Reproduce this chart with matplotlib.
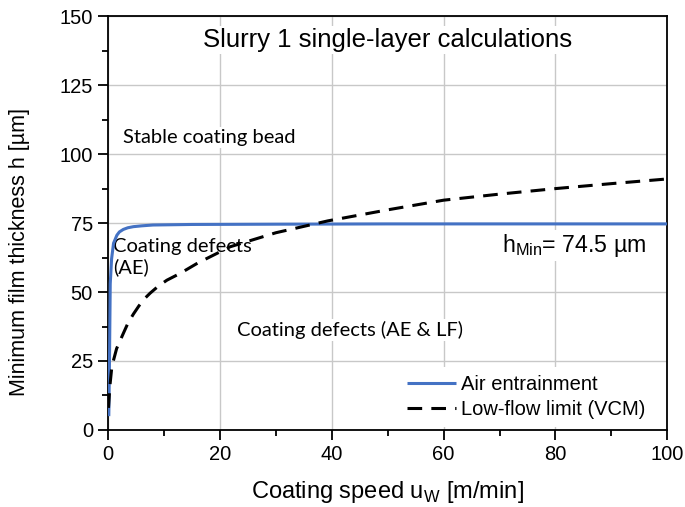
import matplotlib
matplotlib.use("Agg")
import matplotlib.pyplot as plt
import numpy as np

# Air entrainment curve
ae_x = [0.1, 0.2, 0.36, 0.6, 0.95, 1.55, 2.0, 2.7, 3.5, 4.5, 6.0, 8.0, 15, 30, 50, 70, 100]
ae_y = [5.0, 20.0, 53.0, 62.0, 67.7, 70.6, 71.8, 72.7, 73.3, 73.7, 74.0, 74.3, 74.5, 74.6, 74.7, 74.7, 74.7]

# Low-flow limit (VCM) curve
lf_x = [0.05, 0.3, 0.65, 1.5, 2.7, 3.5, 4.5, 5.5, 6.5, 7.5, 9, 10.5, 12.9, 16, 21.8, 30, 39.3,
        50, 60, 70, 80, 90, 100]
lf_y = [8.0, 16.0, 23.0, 29.5, 35.0, 38.6, 42.0, 45.0, 47.6, 49.6, 52.2, 54.3, 56.8, 60.5, 66.4,
        71.5, 75.8, 79.8, 83.3, 85.5, 87.5, 89.3, 91.0]

xticks = [0, 20, 40, 60, 80, 100]
yticks = [0, 25, 50, 75, 100, 125, 150]

fig = plt.figure(figsize=(6.85, 5.07), dpi=100)
ax = fig.add_axes([0.158, 0.152, 0.816, 0.816])

arial = "Liberation Sans"
calibri = "Lato"

ax.set_xlim(0, 100)
ax.set_ylim(0, 150)
ax.set_xticks(xticks)
ax.set_yticks(yticks)
ax.set_xticks(np.arange(10, 100, 20), minor=True)
ax.set_yticks(np.arange(12.5, 150, 25), minor=True)
ax.tick_params(axis="both", which="major", direction="out", length=7, width=1.3,
               labelsize=14.5, pad=4)
ax.tick_params(axis="both", which="minor", direction="out", length=4, width=1.3)
for lab in ax.get_xticklabels() + ax.get_yticklabels():
    lab.set_fontfamily(arial)
for sp in ax.spines.values():
    sp.set_linewidth(1.3)
    sp.set_color("black")

ax.grid(True, which="major", color="#c8c8c8", linewidth=1.0, zorder=0.5)
ax.set_axisbelow(True)

ax.plot(ae_x, ae_y, color="#4472C4", linewidth=2.2, label="Air entrainment", zorder=3,
        solid_capstyle="butt")
ln, = ax.plot(lf_x, lf_y, color="black", linewidth=2.2, label="Low-flow limit (VCM)", zorder=3)
ln.set_dashes((4.8, 3.0))

bb = dict(facecolor="white", edgecolor="none", pad=1.5)
ax.text(50, 141.3, "Slurry 1 single-layer calculations", ha="center", va="center",
        fontsize=18.5, family=arial, bbox=bb, zorder=1.5)
ax.text(2.7, 106, "Stable coating bead", ha="left", va="center",
        fontsize=14.5, family=calibri, bbox=bb, zorder=1.5)
ax.text(0.9, 62.7, "Coating defects\n(AE)", ha="left", va="center", linespacing=1.25,
        fontsize=14.5, family=calibri, zorder=1.5)
ax.text(23, 36.2, "Coating defects (AE & LF)", ha="left", va="center",
        fontsize=14.5, family=calibri, bbox=bb, zorder=1.5)
ax.text(70.5, 67, r"h$_{\mathregular{Min}}$= 74.5 µm", ha="left", va="center",
        fontsize=16.7, family=arial, bbox=bb, zorder=1.5)

ax.set_xlabel(r"Coating speed u$_{\mathregular{W}}$ [m/min]", fontsize=17, family=arial)
ax.xaxis.set_label_coords(0.5, -0.118)
ax.set_ylabel("Minimum film thickness h [µm]", fontsize=15.5, family=arial)
ax.yaxis.set_label_coords(-0.14, 0.43)

leg = ax.legend(loc="lower right", bbox_to_anchor=(0.9857, -0.007), frameon=True,
                handlelength=2.4, handletextpad=0.25, borderaxespad=0.3, labelspacing=0.3,
                prop={"family": arial, "size": 14.5})
leg.get_frame().set_edgecolor("none")
leg.get_frame().set_facecolor("white")
leg.get_frame().set_alpha(1.0)

fig.savefig("out.png", dpi=100)
